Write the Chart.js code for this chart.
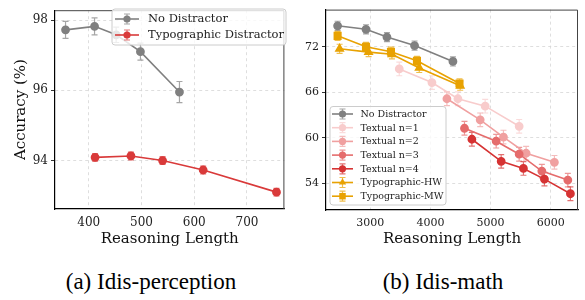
<!DOCTYPE html>
<html lang="en">
<head>
<meta charset="UTF-8">
<title>Accuracy vs Reasoning Length</title>
<script src="https://cdn.jsdelivr.net/npm/chart.js@4"></script>
<style>
    body { margin: 0; background: #fff; }
    #wrap { position: relative; width: 585px; height: 300px; background: #fff; }
    canvas { position: absolute; top: 0; }
    .cap { position: absolute; top: 270px; line-height: 23px; font-family: 'Liberation Serif', 'Times New Roman', serif; font-size: 23px; text-align: center; color: #000; white-space: nowrap; }
</style>
</head>
<body>
<div id="wrap">
    <canvas id="percChart" width="290" height="260" style="left:0"></canvas>
    <canvas id="mathChart" width="295" height="260" style="left:290px"></canvas>
    <div class="cap" style="left:11px;width:280px;">(a) Idis-perception</div>
    <div class="cap" style="left:303px;width:280px;">(b) Idis-math</div>
</div>

<script>
// (a) Idis-perception
const percNoDistX = [356, 411, 452, 498, 572];
const percNoDistY = [97.72, 97.82, 97.58, 97.10, 95.95];
const percNoDistErr = [0.24, 0.24, 0.22, 0.24, 0.30];
const percTypoX = [412, 480, 540, 617, 756];
const percTypoY = [94.09, 94.13, 94.00, 93.73, 93.10];
const percTypoErr = [0.11, 0.11, 0.11, 0.11, 0.11];
const percXTicks = [400, 500, 600, 700];
const percYTicks = [94, 96, 98];

// (b) Idis-math
const mathNoDistX = [2457, 2929, 3277, 3736, 4374];
const mathNoDistY = [74.78, 74.32, 73.29, 72.17, 70.07];
const mathNoDistErr = [0.6, 0.6, 0.6, 0.6, 0.6];
const mathT1X = [3482, 4025, 4457, 4910, 5475];
const mathT1Y = [69.08, 67.28, 65.14, 64.16, 61.50];
const mathT2X = [4274, 4827, 5214, 5591, 6061];
const mathT2Y = [65.14, 62.36, 60.08, 57.94, 56.74];
const mathT3X = [4566, 5093, 5475, 5852, 6284];
const mathT3Y = [61.24, 59.53, 57.81, 55.58, 54.39];
const mathT4X = [4689, 5176, 5546, 5895, 6327];
const mathT4Y = [59.79, 56.87, 55.93, 54.52, 52.59];
const mathTextErr = [0.9, 0.9, 0.9, 0.9, 0.9];
const mathHWX = [2490, 2972, 3360, 3814, 4495];
const mathHWY = [71.74, 71.30, 71.01, 69.21, 66.86];
const mathMWX = [2457, 2929, 3344, 3776, 4483];
const mathMWY = [73.45, 72.00, 71.36, 70.15, 67.16];
const mathTypoErr = [0.6, 0.6, 0.6, 0.6, 0.6];
const mathXTicks = [3000, 4000, 5000, 6000];
const mathYTicks = [54, 60, 66, 72];

const SERIF = "'DejaVu Serif', serif";

function pts(xs, ys) {
    return xs.map((x, i) => ({ x: x, y: ys[i] }));
}

function series(label, xs, ys, err, color, style, radius, idx) {
    return {
        label: label,
        data: pts(xs, ys),
        err: err,
        borderColor: color,
        backgroundColor: color,
        pointBackgroundColor: color,
        pointBorderColor: color,
        pointStyle: style,
        pointRadius: radius,
        borderWidth: 1.6,
        order: -idx
    };
}

// own marker drawing (used in legend)
function marker(ctx, style, r, x, y, color) {
    ctx.fillStyle = color;
    ctx.beginPath();
    if (style === 'triangle') {
        ctx.moveTo(x, y - r);
        ctx.lineTo(x + r * 0.87, y + r * 0.5);
        ctx.lineTo(x - r * 0.87, y + r * 0.5);
        ctx.closePath();
    } else if (style === 'rect') {
        const s = r * Math.SQRT1_2;
        ctx.rect(x - s, y - s, 2 * s, 2 * s);
    } else {
        ctx.arc(x, y, r, 0, Math.PI * 2);
    }
    ctx.fill();
}

// error bars, drawn through the chart's scales
const errorBars = {
    id: 'errorBars',
    beforeDatasetsDraw(chart) {
        const ctx = chart.ctx, xs = chart.scales.x, ys = chart.scales.y;
        const area = chart.chartArea;
        ctx.save();
        ctx.beginPath();
        ctx.rect(area.left, area.top, area.right - area.left, area.bottom - area.top);
        ctx.clip();
        chart.data.datasets.forEach(ds => {
            if (!ds.err) return;
            ctx.strokeStyle = ds.borderColor;
            ctx.globalAlpha = 0.7;
            ctx.lineWidth = 1.2;
            ds.data.forEach((p, i) => {
                const px = xs.getPixelForValue(p.x);
                const y1 = ys.getPixelForValue(p.y - ds.err[i]);
                const y2 = ys.getPixelForValue(p.y + ds.err[i]);
                ctx.beginPath();
                ctx.moveTo(px, y1); ctx.lineTo(px, y2);
                ctx.moveTo(px - 3, y1); ctx.lineTo(px + 3, y1);
                ctx.moveTo(px - 3, y2); ctx.lineTo(px + 3, y2);
                ctx.stroke();
            });
        });
        ctx.restore();
    }
};

// top/right frame plus legend box inside the plot
const frameLegend = {
    id: 'frameLegend',
    afterDraw(chart, args, opts) {
        const ctx = chart.ctx, a = chart.chartArea;
        ctx.save();
        ctx.strokeStyle = '#444';
        ctx.lineWidth = 1;
        ctx.beginPath();
        ctx.moveTo(a.left, a.top + 0.5); ctx.lineTo(a.right - 0.5, a.top + 0.5); ctx.lineTo(a.right - 0.5, a.bottom);
        ctx.stroke();

        // legend
        ctx.fillStyle = 'rgba(255,255,255,0.8)';
        ctx.strokeStyle = '#ccc';
        ctx.beginPath();
        ctx.roundRect(opts.x, opts.y, opts.w, opts.h, 3);
        ctx.fill();
        ctx.stroke();
        ctx.font = opts.fontSize + 'px ' + SERIF;
        ctx.textBaseline = 'middle';
        chart.data.datasets.forEach((ds, i) => {
            const ry = opts.rowY + i * opts.rowH;
            const mx = (opts.hx0 + opts.hx1) / 2;
            ctx.strokeStyle = ds.borderColor;
            ctx.lineWidth = 1.6;
            ctx.globalAlpha = 1;
            ctx.beginPath();
            ctx.moveTo(opts.hx0, ry); ctx.lineTo(opts.hx1, ry);
            ctx.stroke();
            ctx.globalAlpha = 0.7;
            ctx.lineWidth = 1.2;
            ctx.beginPath();
            ctx.moveTo(mx, ry - 5); ctx.lineTo(mx, ry + 5);
            ctx.moveTo(mx - 3, ry - 5); ctx.lineTo(mx + 3, ry - 5);
            ctx.moveTo(mx - 3, ry + 5); ctx.lineTo(mx + 3, ry + 5);
            ctx.stroke();
            ctx.globalAlpha = 1;
            marker(ctx, ds.pointStyle, ds.pointRadius, mx, ry, ds.borderColor);
            ctx.fillStyle = '#222';
            ctx.fillText(ds.label, opts.tx, ry + 0.5);
        });
        ctx.restore();
    }
};

function axisOpts(min, max, tickVals, fontSize, fitSize, title, tickColor) {
    return {
        type: 'linear',
        min: min,
        max: max,
        afterBuildTicks: s => { s.ticks = tickVals.map(v => ({ value: v })); },
        ticks: { color: '#222', font: { family: SERIF, size: fontSize }, padding: 3, callback: v => String(v) },
        grid: { color: '#d6d6d6', lineWidth: 0.8, tickLength: 4, tickColor: tickColor, tickBorderDash: [] },
        border: { color: '#000', width: 1.2, dash: [3, 3] },
        title: { display: !!title, text: title || '', color: '#111', font: { family: SERIF, size: 15 }, padding: { top: 4, bottom: 4 } },
        afterFit: s => { if (s.isHorizontal()) s.height = fitSize; else s.width = fitSize; }
    };
}

function makeChart(id, datasets, xAxis, yAxis, padding, legend) {
    new Chart(document.getElementById(id), {
        type: 'line',
        data: { datasets: datasets },
        options: {
            responsive: false,
            animation: false,
            devicePixelRatio: 1,
            layout: { padding: padding },
            scales: { x: xAxis, y: yAxis },
            plugins: {
                legend: { display: false },
                tooltip: { enabled: false },
                frameLegend: legend
            }
        },
        plugins: [errorBars, frameLegend]
    });
}

// (a) Idis-perception
makeChart('percChart', [
    series('No Distractor', percNoDistX, percNoDistY, percNoDistErr, '#808080', 'circle', 3.6, 0),
    series('Typographic Distractor', percTypoX, percTypoY, percTypoErr, '#d93a3a', 'circle', 3.6, 1)
],
    axisOpts(336, 771, percXTicks, 12, 43, 'Reasoning Length', 'rgba(0,0,0,0)'),
    axisOpts(92.62, 98.28, percYTicks, 12, 47, 'Accuracy (%)', '#000'),
    { left: 8, right: 2, top: 4, bottom: 8 },
    { x: 112, y: 9, w: 174, h: 36, rowY: 19, rowH: 16, hx0: 115, hx1: 139, tx: 148, fontSize: 11.5 }
);

// (b) Idis-math
makeChart('mathChart', [
    series('No Distractor', mathNoDistX, mathNoDistY, mathNoDistErr, '#808080', 'circle', 3.6, 0),
    series('Textual n=1', mathT1X, mathT1Y, mathTextErr, '#f8cccc', 'circle', 3.6, 1),
    series('Textual n=2', mathT2X, mathT2Y, mathTextErr, '#f0a0a0', 'circle', 3.6, 2),
    series('Textual n=3', mathT3X, mathT3Y, mathTextErr, '#e56c6c', 'circle', 3.6, 3),
    series('Textual n=4', mathT4X, mathT4Y, mathTextErr, '#d63333', 'circle', 3.6, 4),
    series('Typographic-HW', mathHWX, mathHWY, mathTypoErr, '#e8a202', 'triangle', 4.2, 5),
    series('Typographic-MW', mathMWX, mathMWY, mathTypoErr, '#e8a202', 'rect', 4.6, 6)
],
    axisOpts(2264, 6453, mathXTicks, 11, 42, 'Reasoning Length', 'rgba(0,0,0,0)'),
    axisOpts(50.44, 76.92, mathYTicks, 11, 36, null, '#000'),
    { left: 0, right: 7, top: 4, bottom: 8 },
    { x: 40, y: 106.5, w: 116, h: 98.5, rowY: 114, rowH: 13.7, hx0: 42, hx1: 63, tx: 70.5, fontSize: 9.5 }
);
</script>
</body>
</html>
